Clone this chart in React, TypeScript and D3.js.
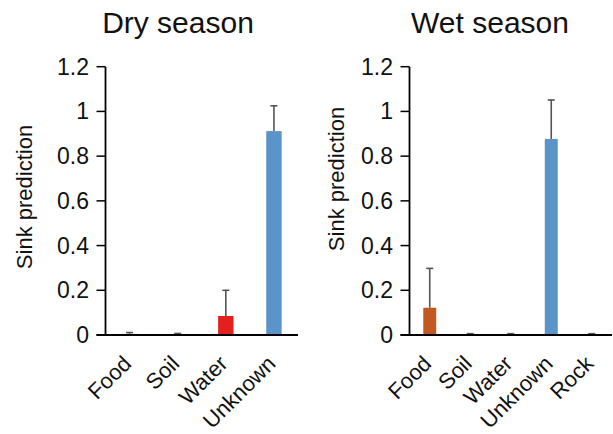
import React from "react";
import * as d3 from "d3";

// Sink prediction per source category, dry and wet season
const dryCategories = ["Food", "Soil", "Water", "Unknown"];
const dryMeans = [0.005, 0.004, 0.085, 0.912];
const dryErrors = [0.006, 0.003, 0.115, 0.113];

const wetCategories = ["Food", "Soil", "Water", "Unknown", "Rock"];
const wetMeans = [0.122, 0.004, 0.004, 0.877, 0.004];
const wetErrors = [0.176, 0.002, 0.002, 0.174, 0.002];

const yTicks = [0, 0.2, 0.4, 0.6, 0.8, 1, 1.2];

const BLUE = "#5b94c8";
const baseColors: Record<string, string> = {
  Food: BLUE,
  Soil: BLUE,
  Water: BLUE,
  Unknown: BLUE,
  Rock: BLUE,
};
const dryColors: Record<string, string> = { ...baseColors, Water: "#e3201e" };
const wetColors: Record<string, string> = { ...baseColors, Food: "#c05a22" };

const FONT = "'Liberation Sans', Arial, sans-serif";

type PanelProps = {
  title: string;
  titleX: number;
  categories: string[];
  means: number[];
  errors: number[];
  colors: Record<string, string>;
  x0: number;
  x1: number;
  labelX: number;
  labelY: number;
};

function Panel({ title, titleX, categories, means, errors, colors, x0, x1, labelX, labelY }: PanelProps) {
  const yBottom = 335;
  const yTop = 66.7;
  const y = d3.scaleLinear().domain([0, 1.2]).range([yBottom, yTop]);
  const x = d3
    .scaleBand<string>()
    .domain(categories)
    .range([x0, x1])
    .paddingInner(0.68)
    .paddingOuter(0.34);
  const bw = x.bandwidth();
  const fmt = (v: number) => d3.format("~g")(v);

  return (
    <g>
      <text x={titleX} y={33} textAnchor="middle" fontSize={30} fontFamily={FONT} fill="#111">
        {title}
      </text>
      <text
        transform={`translate(${labelX},${labelY}) rotate(-90)`}
        textAnchor="middle"
        fontSize={22}
        fontFamily={FONT}
        fill="#111"
      >
        Sink prediction
      </text>
      {categories.map((c, i) => {
        const cx = (x(c) ?? 0) + bw / 2;
        const top = y(means[i]);
        const errTop = y(means[i] + errors[i]);
        return (
          <g key={c}>
            <rect x={x(c)} y={top} width={bw} height={yBottom - top} fill={colors[c]} />
            <line x1={cx} x2={cx} y1={top} y2={errTop} stroke="#555" strokeWidth={1.6} />
            <line x1={cx - 3.5} x2={cx + 3.5} y1={errTop} y2={errTop} stroke="#555" strokeWidth={1.6} />
          </g>
        );
      })}
      {/* y axis */}
      <line x1={x0} x2={x0} y1={yTop} y2={yBottom} stroke="#000" strokeWidth={1.8} />
      {yTicks.map((t) => (
        <g key={t}>
          <line x1={x0 - 9} x2={x0} y1={y(t)} y2={y(t)} stroke="#000" strokeWidth={1.5} />
          <text
            x={x0 - 16.5}
            y={y(t)}
            dy="0.35em"
            textAnchor="end"
            fontSize={23}
            fontFamily={FONT}
            fill="#111"
          >
            {fmt(t)}
          </text>
        </g>
      ))}
      {/* x axis */}
      <line x1={x0 - 9} x2={x1} y1={yBottom} y2={yBottom} stroke="#000" strokeWidth={1.8} />
      {categories.map((c) => {
        const cx = (x(c) ?? 0) + bw / 2;
        return (
          <text
            key={c}
            transform={`translate(${cx + 3},${365}) rotate(-45)`}
            textAnchor="end"
            fontSize={22}
            fontFamily={FONT}
            fill="#111"
          >
            {c}
          </text>
        );
      })}
    </g>
  );
}

export default function App() {
  return (
    <svg
      width={613}
      height={434}
      style={{ position: "absolute", left: 0, top: 0, background: "#fff" }}
    >
      <rect width={613} height={434} fill="#fff" />
      <Panel
        title="Dry season"
        titleX={178}
        categories={dryCategories}
        means={dryMeans}
        errors={dryErrors}
        colors={dryColors}
        x0={105.5}
        x1={298}
        labelX={32}
        labelY={197}
      />
      <Panel
        title="Wet season"
        titleX={490}
        categories={wetCategories}
        means={wetMeans}
        errors={wetErrors}
        colors={wetColors}
        x0={409.5}
        x1={612}
        labelX={344}
        labelY={179}
      />
    </svg>
  );
}
